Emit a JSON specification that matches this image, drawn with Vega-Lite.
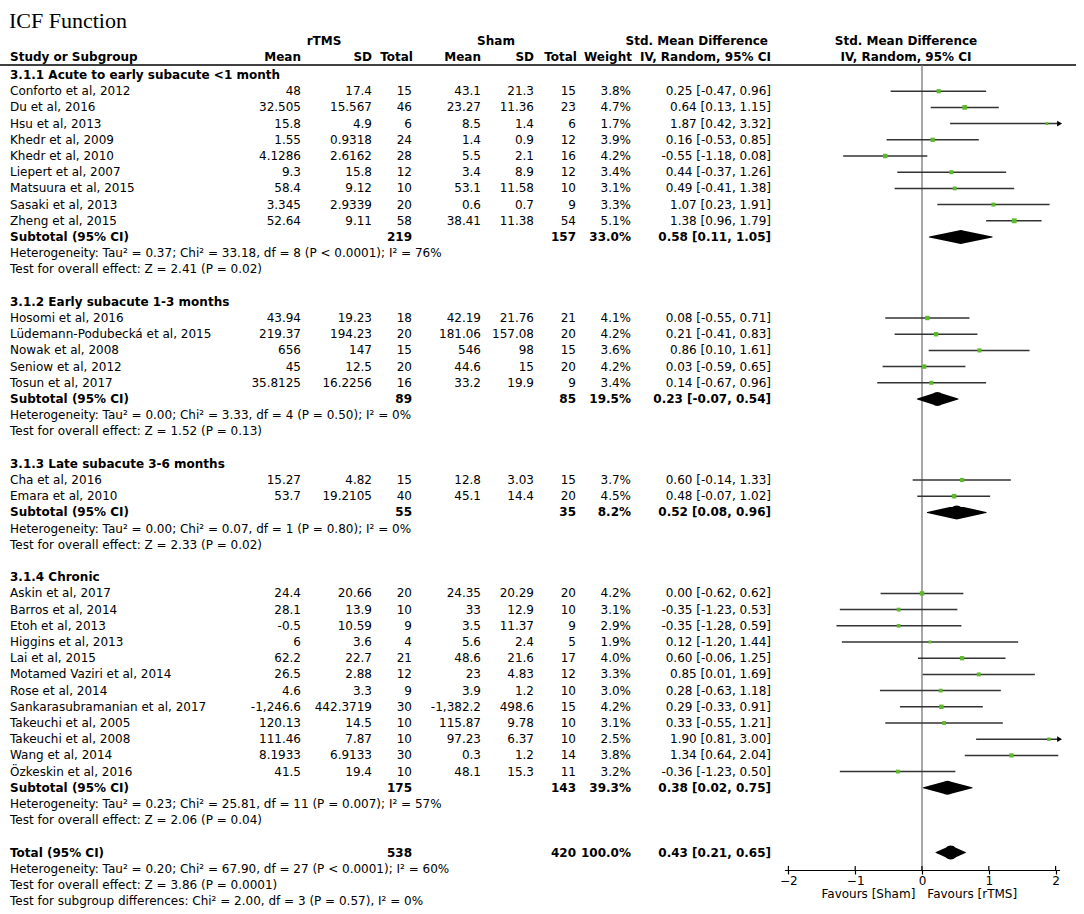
{
  "$schema": "https://vega.github.io/schema/vega-lite/v6.json",
  "width": 1084,
  "height": 870,
  "autosize": {"type": "none"},
  "padding": {"left": 0, "top": 0, "right": 0, "bottom": 44},
  "background": "white",
  "config": {
    "view": {"stroke": null},
    "text": {"font": "DejaVu Sans", "fontSize": 12, "baseline": "middle", "color": "#000"}
  },
  "datasets": {
    "studies": [
      {"row": 1, "study": "Conforto et al, 2012", "m1": "48", "sd1": "17.4", "n1": "15", "m2": "43.1", "sd2": "21.3", "n2": "15", "w": "3.8%", "wt": 3.8, "est": 0.25, "lo": -0.47, "hi": 0.96, "ci": "0.25 [-0.47, 0.96]"},
      {"row": 2, "study": "Du et al, 2016", "m1": "32.505", "sd1": "15.567", "n1": "46", "m2": "23.27", "sd2": "11.36", "n2": "23", "w": "4.7%", "wt": 4.7, "est": 0.64, "lo": 0.13, "hi": 1.15, "ci": "0.64 [0.13, 1.15]"},
      {"row": 3, "study": "Hsu et al, 2013", "m1": "15.8", "sd1": "4.9", "n1": "6", "m2": "8.5", "sd2": "1.4", "n2": "6", "w": "1.7%", "wt": 1.7, "est": 1.87, "lo": 0.42, "hi": 3.32, "ci": "1.87 [0.42, 3.32]"},
      {"row": 4, "study": "Khedr et al, 2009", "m1": "1.55", "sd1": "0.9318", "n1": "24", "m2": "1.4", "sd2": "0.9", "n2": "12", "w": "3.9%", "wt": 3.9, "est": 0.16, "lo": -0.53, "hi": 0.85, "ci": "0.16 [-0.53, 0.85]"},
      {"row": 5, "study": "Khedr et al, 2010", "m1": "4.1286", "sd1": "2.6162", "n1": "28", "m2": "5.5", "sd2": "2.1", "n2": "16", "w": "4.2%", "wt": 4.2, "est": -0.55, "lo": -1.18, "hi": 0.08, "ci": "-0.55 [-1.18, 0.08]"},
      {"row": 6, "study": "Liepert et al, 2007", "m1": "9.3", "sd1": "15.8", "n1": "12", "m2": "3.4", "sd2": "8.9", "n2": "12", "w": "3.4%", "wt": 3.4, "est": 0.44, "lo": -0.37, "hi": 1.26, "ci": "0.44 [-0.37, 1.26]"},
      {"row": 7, "study": "Matsuura et al, 2015", "m1": "58.4", "sd1": "9.12", "n1": "10", "m2": "53.1", "sd2": "11.58", "n2": "10", "w": "3.1%", "wt": 3.1, "est": 0.49, "lo": -0.41, "hi": 1.38, "ci": "0.49 [-0.41, 1.38]"},
      {"row": 8, "study": "Sasaki et al, 2013", "m1": "3.345", "sd1": "2.9339", "n1": "20", "m2": "0.6", "sd2": "0.7", "n2": "9", "w": "3.3%", "wt": 3.3, "est": 1.07, "lo": 0.23, "hi": 1.91, "ci": "1.07 [0.23, 1.91]"},
      {"row": 9, "study": "Zheng et al, 2015", "m1": "52.64", "sd1": "9.11", "n1": "58", "m2": "38.41", "sd2": "11.38", "n2": "54", "w": "5.1%", "wt": 5.1, "est": 1.38, "lo": 0.96, "hi": 1.79, "ci": "1.38 [0.96, 1.79]"},
      {"row": 15, "study": "Hosomi et al, 2016", "m1": "43.94", "sd1": "19.23", "n1": "18", "m2": "42.19", "sd2": "21.76", "n2": "21", "w": "4.1%", "wt": 4.1, "est": 0.08, "lo": -0.55, "hi": 0.71, "ci": "0.08 [-0.55, 0.71]"},
      {"row": 16, "study": "Lüdemann-Podubecká et al, 2015", "m1": "219.37", "sd1": "194.23", "n1": "20", "m2": "181.06", "sd2": "157.08", "n2": "20", "w": "4.2%", "wt": 4.2, "est": 0.21, "lo": -0.41, "hi": 0.83, "ci": "0.21 [-0.41, 0.83]"},
      {"row": 17, "study": "Nowak et al, 2008", "m1": "656", "sd1": "147", "n1": "15", "m2": "546", "sd2": "98", "n2": "15", "w": "3.6%", "wt": 3.6, "est": 0.86, "lo": 0.10, "hi": 1.61, "ci": "0.86 [0.10, 1.61]"},
      {"row": 18, "study": "Seniow et al, 2012", "m1": "45", "sd1": "12.5", "n1": "20", "m2": "44.6", "sd2": "15", "n2": "20", "w": "4.2%", "wt": 4.2, "est": 0.03, "lo": -0.59, "hi": 0.65, "ci": "0.03 [-0.59, 0.65]"},
      {"row": 19, "study": "Tosun et al, 2017", "m1": "35.8125", "sd1": "16.2256", "n1": "16", "m2": "33.2", "sd2": "19.9", "n2": "9", "w": "3.4%", "wt": 3.4, "est": 0.14, "lo": -0.67, "hi": 0.96, "ci": "0.14 [-0.67, 0.96]"},
      {"row": 25, "study": "Cha et al, 2016", "m1": "15.27", "sd1": "4.82", "n1": "15", "m2": "12.8", "sd2": "3.03", "n2": "15", "w": "3.7%", "wt": 3.7, "est": 0.60, "lo": -0.14, "hi": 1.33, "ci": "0.60 [-0.14, 1.33]"},
      {"row": 26, "study": "Emara et al, 2010", "m1": "53.7", "sd1": "19.2105", "n1": "40", "m2": "45.1", "sd2": "14.4", "n2": "20", "w": "4.5%", "wt": 4.5, "est": 0.48, "lo": -0.07, "hi": 1.02, "ci": "0.48 [-0.07, 1.02]"},
      {"row": 32, "study": "Askin et al, 2017", "m1": "24.4", "sd1": "20.66", "n1": "20", "m2": "24.35", "sd2": "20.29", "n2": "20", "w": "4.2%", "wt": 4.2, "est": 0.00, "lo": -0.62, "hi": 0.62, "ci": "0.00 [-0.62, 0.62]"},
      {"row": 33, "study": "Barros et al, 2014", "m1": "28.1", "sd1": "13.9", "n1": "10", "m2": "33", "sd2": "12.9", "n2": "10", "w": "3.1%", "wt": 3.1, "est": -0.35, "lo": -1.23, "hi": 0.53, "ci": "-0.35 [-1.23, 0.53]"},
      {"row": 34, "study": "Etoh et al, 2013", "m1": "-0.5", "sd1": "10.59", "n1": "9", "m2": "3.5", "sd2": "11.37", "n2": "9", "w": "2.9%", "wt": 2.9, "est": -0.35, "lo": -1.28, "hi": 0.59, "ci": "-0.35 [-1.28, 0.59]"},
      {"row": 35, "study": "Higgins et al, 2013", "m1": "6", "sd1": "3.6", "n1": "4", "m2": "5.6", "sd2": "2.4", "n2": "5", "w": "1.9%", "wt": 1.9, "est": 0.12, "lo": -1.20, "hi": 1.44, "ci": "0.12 [-1.20, 1.44]"},
      {"row": 36, "study": "Lai et al, 2015", "m1": "62.2", "sd1": "22.7", "n1": "21", "m2": "48.6", "sd2": "21.6", "n2": "17", "w": "4.0%", "wt": 4.0, "est": 0.60, "lo": -0.06, "hi": 1.25, "ci": "0.60 [-0.06, 1.25]"},
      {"row": 37, "study": "Motamed Vaziri et al, 2014", "m1": "26.5", "sd1": "2.88", "n1": "12", "m2": "23", "sd2": "4.83", "n2": "12", "w": "3.3%", "wt": 3.3, "est": 0.85, "lo": 0.01, "hi": 1.69, "ci": "0.85 [0.01, 1.69]"},
      {"row": 38, "study": "Rose et al, 2014", "m1": "4.6", "sd1": "3.3", "n1": "9", "m2": "3.9", "sd2": "1.2", "n2": "10", "w": "3.0%", "wt": 3.0, "est": 0.28, "lo": -0.63, "hi": 1.18, "ci": "0.28 [-0.63, 1.18]"},
      {"row": 39, "study": "Sankarasubramanian et al, 2017", "m1": "-1,246.6", "sd1": "442.3719", "n1": "30", "m2": "-1,382.2", "sd2": "498.6", "n2": "15", "w": "4.2%", "wt": 4.2, "est": 0.29, "lo": -0.33, "hi": 0.91, "ci": "0.29 [-0.33, 0.91]"},
      {"row": 40, "study": "Takeuchi et al, 2005", "m1": "120.13", "sd1": "14.5", "n1": "10", "m2": "115.87", "sd2": "9.78", "n2": "10", "w": "3.1%", "wt": 3.1, "est": 0.33, "lo": -0.55, "hi": 1.21, "ci": "0.33 [-0.55, 1.21]"},
      {"row": 41, "study": "Takeuchi et al, 2008", "m1": "111.46", "sd1": "7.87", "n1": "10", "m2": "97.23", "sd2": "6.37", "n2": "10", "w": "2.5%", "wt": 2.5, "est": 1.90, "lo": 0.81, "hi": 3.00, "ci": "1.90 [0.81, 3.00]"},
      {"row": 42, "study": "Wang et al, 2014", "m1": "8.1933", "sd1": "6.9133", "n1": "30", "m2": "0.3", "sd2": "1.2", "n2": "14", "w": "3.8%", "wt": 3.8, "est": 1.34, "lo": 0.64, "hi": 2.04, "ci": "1.34 [0.64, 2.04]"},
      {"row": 43, "study": "Özkeskin et al, 2016", "m1": "41.5", "sd1": "19.4", "n1": "10", "m2": "48.1", "sd2": "15.3", "n2": "11", "w": "3.2%", "wt": 3.2, "est": -0.36, "lo": -1.23, "hi": 0.50, "ci": "-0.36 [-1.23, 0.50]"}
    ],
    "summary": [
      {"row": 10, "label": "Subtotal (95% CI)", "n1": "219", "n2": "157", "w": "33.0%", "est": 0.58, "lo": 0.11, "hi": 1.05, "ci": "0.58 [0.11, 1.05]"},
      {"row": 20, "label": "Subtotal (95% CI)", "n1": "89", "n2": "85", "w": "19.5%", "est": 0.23, "lo": -0.07, "hi": 0.54, "ci": "0.23 [-0.07, 0.54]"},
      {"row": 27, "label": "Subtotal (95% CI)", "n1": "55", "n2": "35", "w": "8.2%", "est": 0.52, "lo": 0.08, "hi": 0.96, "ci": "0.52 [0.08, 0.96]"},
      {"row": 44, "label": "Subtotal (95% CI)", "n1": "175", "n2": "143", "w": "39.3%", "est": 0.38, "lo": 0.02, "hi": 0.75, "ci": "0.38 [0.02, 0.75]"},
      {"row": 48, "label": "Total (95% CI)", "n1": "538", "n2": "420", "w": "100.0%", "est": 0.43, "lo": 0.21, "hi": 0.65, "ci": "0.43 [0.21, 0.65]"}
    ],
    "headings": [
      {"row": 0, "label": "3.1.1 Acute to early subacute <1 month"},
      {"row": 14, "label": "3.1.2 Early subacute 1-3 months"},
      {"row": 24, "label": "3.1.3 Late subacute 3-6 months"},
      {"row": 31, "label": "3.1.4 Chronic"}
    ],
    "notes": [
      {"row": 11, "label": "Heterogeneity: Tau² = 0.37; Chi² = 33.18, df = 8 (P < 0.0001); I² = 76%"},
      {"row": 12, "label": "Test for overall effect: Z = 2.41 (P = 0.02)"},
      {"row": 21, "label": "Heterogeneity: Tau² = 0.00; Chi² = 3.33, df = 4 (P = 0.50); I² = 0%"},
      {"row": 22, "label": "Test for overall effect: Z = 1.52 (P = 0.13)"},
      {"row": 28, "label": "Heterogeneity: Tau² = 0.00; Chi² = 0.07, df = 1 (P = 0.80); I² = 0%"},
      {"row": 29, "label": "Test for overall effect: Z = 2.33 (P = 0.02)"},
      {"row": 45, "label": "Heterogeneity: Tau² = 0.23; Chi² = 25.81, df = 11 (P = 0.007); I² = 57%"},
      {"row": 46, "label": "Test for overall effect: Z = 2.06 (P = 0.04)"},
      {"row": 49, "label": "Heterogeneity: Tau² = 0.20; Chi² = 67.90, df = 27 (P < 0.0001); I² = 60%"},
      {"row": 50, "label": "Test for overall effect: Z = 3.86 (P = 0.0001)"},
      {"row": 51, "label": "Test for subgroup differences: Chi² = 2.00, df = 3 (P = 0.57), I² = 0%"}
    ],
    "ticks": [{"t": -2}, {"t": -1}, {"t": 0}, {"t": 1}, {"t": 2}]
  },
  "layer": [
    {
      "layer": [
        {"data": {"values": [{}]}, "mark": {"type": "text", "text": "ICF Function", "font": "Liberation Serif", "fontSize": 22, "align": "left"},
         "encoding": {"x": {"datum": 9, "type": "quantitative", "scale": {"domain": [0, 1084], "range": [0, 1084], "nice": false, "zero": false}, "axis": null},
                      "y": {"datum": -3.33, "type": "quantitative", "scale": {"domain": [-4.6296, 49.074], "reverse": true, "nice": false, "zero": false}, "axis": null}}},
        {"data": {"values": [{}]}, "mark": {"type": "rule", "color": "#000", "strokeWidth": 1.5},
         "encoding": {"x": {"datum": 0, "type": "quantitative"}, "x2": {"datum": 1076},
                      "y": {"datum": -0.62, "type": "quantitative"}}},
        {"data": {"values": [{}]}, "mark": {"type": "text", "text": "rTMS", "fontWeight": "bold", "align": "center"},
         "encoding": {"x": {"datum": 324, "type": "quantitative"}, "y": {"datum": -2.1, "type": "quantitative"}}},
        {"data": {"values": [{}]}, "mark": {"type": "text", "text": "Sham", "fontWeight": "bold", "align": "center"},
         "encoding": {"x": {"datum": 496, "type": "quantitative"}, "y": {"datum": -2.1, "type": "quantitative"}}},
        {"data": {"values": [{}]}, "mark": {"type": "text", "text": "Std. Mean Difference", "fontWeight": "bold", "align": "right"},
         "encoding": {"x": {"datum": 768, "type": "quantitative"}, "y": {"datum": -2.1, "type": "quantitative"}}},
        {"data": {"values": [{}]}, "mark": {"type": "text", "text": "Std. Mean Difference", "fontWeight": "bold", "align": "center"},
         "encoding": {"x": {"datum": 906, "type": "quantitative"}, "y": {"datum": -2.1, "type": "quantitative"}}},
        {"data": {"values": [{}]}, "mark": {"type": "text", "text": "IV, Random, 95% CI", "fontWeight": "bold", "align": "center"},
         "encoding": {"x": {"datum": 906, "type": "quantitative"}, "y": {"datum": -1.1, "type": "quantitative"}}},
        {"data": {"values": [{}]}, "mark": {"type": "text", "text": "Study or Subgroup", "fontWeight": "bold", "align": "left"},
         "encoding": {"x": {"datum": 10, "type": "quantitative"}, "y": {"datum": -1.1, "type": "quantitative"}}},
        {"data": {"values": [{}]}, "mark": {"type": "text", "text": "Mean", "fontWeight": "bold", "align": "right"},
         "encoding": {"x": {"datum": 301, "type": "quantitative"}, "y": {"datum": -1.1, "type": "quantitative"}}},
        {"data": {"values": [{}]}, "mark": {"type": "text", "text": "SD", "fontWeight": "bold", "align": "right"},
         "encoding": {"x": {"datum": 372, "type": "quantitative"}, "y": {"datum": -1.1, "type": "quantitative"}}},
        {"data": {"values": [{}]}, "mark": {"type": "text", "text": "Total", "fontWeight": "bold", "align": "right"},
         "encoding": {"x": {"datum": 413, "type": "quantitative"}, "y": {"datum": -1.1, "type": "quantitative"}}},
        {"data": {"values": [{}]}, "mark": {"type": "text", "text": "Mean", "fontWeight": "bold", "align": "right"},
         "encoding": {"x": {"datum": 481, "type": "quantitative"}, "y": {"datum": -1.1, "type": "quantitative"}}},
        {"data": {"values": [{}]}, "mark": {"type": "text", "text": "SD", "fontWeight": "bold", "align": "right"},
         "encoding": {"x": {"datum": 534, "type": "quantitative"}, "y": {"datum": -1.1, "type": "quantitative"}}},
        {"data": {"values": [{}]}, "mark": {"type": "text", "text": "Total", "fontWeight": "bold", "align": "right"},
         "encoding": {"x": {"datum": 577, "type": "quantitative"}, "y": {"datum": -1.1, "type": "quantitative"}}},
        {"data": {"values": [{}]}, "mark": {"type": "text", "text": "Weight", "fontWeight": "bold", "align": "right"},
         "encoding": {"x": {"datum": 632, "type": "quantitative"}, "y": {"datum": -1.1, "type": "quantitative"}}},
        {"data": {"values": [{}]}, "mark": {"type": "text", "text": "IV, Random, 95% CI", "fontWeight": "bold", "align": "right"},
         "encoding": {"x": {"datum": 771, "type": "quantitative"}, "y": {"datum": -1.1, "type": "quantitative"}}},
        {"data": {"name": "headings"}, "mark": {"type": "text", "fontWeight": "bold", "align": "left"},
         "encoding": {"x": {"datum": 10, "type": "quantitative"}, "y": {"field": "row", "type": "quantitative"}, "text": {"field": "label"}}},
        {"data": {"name": "notes"}, "mark": {"type": "text", "align": "left", "fontSize": 12},
         "encoding": {"x": {"datum": 10, "type": "quantitative"}, "y": {"field": "row", "type": "quantitative"}, "text": {"field": "label"}}},
        {"data": {"name": "studies"}, "mark": {"type": "text", "align": "left"},
         "encoding": {"x": {"datum": 10, "type": "quantitative"}, "y": {"field": "row", "type": "quantitative"}, "text": {"field": "study"}}},
        {"data": {"name": "studies"}, "mark": {"type": "text", "align": "right"},
         "encoding": {"x": {"datum": 301, "type": "quantitative"}, "y": {"field": "row", "type": "quantitative"}, "text": {"field": "m1"}}},
        {"data": {"name": "studies"}, "mark": {"type": "text", "align": "right"},
         "encoding": {"x": {"datum": 372, "type": "quantitative"}, "y": {"field": "row", "type": "quantitative"}, "text": {"field": "sd1"}}},
        {"data": {"name": "studies"}, "mark": {"type": "text", "align": "right"},
         "encoding": {"x": {"datum": 412, "type": "quantitative"}, "y": {"field": "row", "type": "quantitative"}, "text": {"field": "n1"}}},
        {"data": {"name": "studies"}, "mark": {"type": "text", "align": "right"},
         "encoding": {"x": {"datum": 481, "type": "quantitative"}, "y": {"field": "row", "type": "quantitative"}, "text": {"field": "m2"}}},
        {"data": {"name": "studies"}, "mark": {"type": "text", "align": "right"},
         "encoding": {"x": {"datum": 534, "type": "quantitative"}, "y": {"field": "row", "type": "quantitative"}, "text": {"field": "sd2"}}},
        {"data": {"name": "studies"}, "mark": {"type": "text", "align": "right"},
         "encoding": {"x": {"datum": 576, "type": "quantitative"}, "y": {"field": "row", "type": "quantitative"}, "text": {"field": "n2"}}},
        {"data": {"name": "studies"}, "mark": {"type": "text", "align": "right"},
         "encoding": {"x": {"datum": 631, "type": "quantitative"}, "y": {"field": "row", "type": "quantitative"}, "text": {"field": "w"}}},
        {"data": {"name": "studies"}, "mark": {"type": "text", "align": "right"},
         "encoding": {"x": {"datum": 771, "type": "quantitative"}, "y": {"field": "row", "type": "quantitative"}, "text": {"field": "ci"}}},
        {"data": {"name": "summary"}, "mark": {"type": "text", "align": "left", "fontWeight": "bold"},
         "encoding": {"x": {"datum": 10, "type": "quantitative"}, "y": {"field": "row", "type": "quantitative"}, "text": {"field": "label"}}},
        {"data": {"name": "summary"}, "mark": {"type": "text", "align": "right", "fontWeight": "bold"},
         "encoding": {"x": {"datum": 412, "type": "quantitative"}, "y": {"field": "row", "type": "quantitative"}, "text": {"field": "n1"}}},
        {"data": {"name": "summary"}, "mark": {"type": "text", "align": "right", "fontWeight": "bold"},
         "encoding": {"x": {"datum": 576, "type": "quantitative"}, "y": {"field": "row", "type": "quantitative"}, "text": {"field": "n2"}}},
        {"data": {"name": "summary"}, "mark": {"type": "text", "align": "right", "fontWeight": "bold"},
         "encoding": {"x": {"datum": 631, "type": "quantitative"}, "y": {"field": "row", "type": "quantitative"}, "text": {"field": "w"}}},
        {"data": {"name": "summary"}, "mark": {"type": "text", "align": "right", "fontWeight": "bold"},
         "encoding": {"x": {"datum": 771, "type": "quantitative"}, "y": {"field": "row", "type": "quantitative"}, "text": {"field": "ci"}}}
      ]
    },
    {
      "layer": [
        {"data": {"values": [{}]}, "mark": {"type": "rule", "color": "#777", "strokeWidth": 1.3},
         "encoding": {"x": {"datum": 0, "type": "quantitative",
                            "scale": {"domain": [-2.06, 2.06], "range": [784.4, 1059.6], "clamp": true, "nice": false, "zero": false},
                            "axis": {"values": [-2, -1, 0, 1, 2], "orient": "bottom", "title": null, "grid": false, "domainColor": "#000", "domainWidth": 1.2, "tickColor": "#000", "tickSize": 4, "tickWidth": 1.2, "labelFont": "DejaVu Sans", "labelFontSize": 12, "labelColor": "#000", "labelPadding": 1, "format": "d"}},
                      "y": {"datum": -0.62, "type": "quantitative"}, "y2": {"datum": 49.074}}},
        {"data": {"name": "ticks"}, "mark": {"type": "rule", "color": "#000", "strokeWidth": 1.2},
         "encoding": {"x": {"field": "t", "type": "quantitative"}, "y": {"datum": 48.82, "type": "quantitative"}, "y2": {"datum": 49.074}}},
        {"data": {"name": "studies"}, "mark": {"type": "rule", "color": "#333", "strokeWidth": 1.5},
         "encoding": {"x": {"field": "lo", "type": "quantitative"}, "x2": {"field": "hi"}, "y": {"field": "row", "type": "quantitative"}}},
        {"data": {"name": "studies"}, "transform": [{"filter": "datum.hi > 2.06"}],
         "mark": {"type": "point", "shape": "triangle-right", "filled": true, "color": "#000", "size": 32, "opacity": 1},
         "encoding": {"x": {"field": "hi", "type": "quantitative"}, "y": {"field": "row", "type": "quantitative"}}},
        {"data": {"name": "studies"}, "mark": {"type": "point", "shape": "square", "filled": true, "color": "#5dbb2b", "opacity": 1},
         "encoding": {"x": {"field": "est", "type": "quantitative"}, "y": {"field": "row", "type": "quantitative"},
                      "size": {"field": "wt", "type": "quantitative", "scale": {"domain": [1.5, 5.5], "range": [7, 26]}, "legend": null}}},
        {"data": {"name": "summary"}, "transform": [{"fold": ["lo", "est", "hi"], "as": ["k", "v"]}],
         "mark": {"type": "trail", "color": "#000"},
         "encoding": {"x": {"field": "v", "type": "quantitative"}, "y": {"field": "row", "type": "quantitative"},
                      "detail": {"field": "row", "type": "nominal"},
                      "size": {"condition": {"test": "datum.k === 'est'", "value": 14}, "value": 0}}},
        {"data": {"values": [{}]}, "mark": {"type": "text", "text": "Favours [Sham]", "align": "right", "font": "DejaVu Sans", "fontSize": 12, "baseline": "middle"},
         "encoding": {"x": {"datum": -0.1, "type": "quantitative"}, "y": {"datum": 50.55, "type": "quantitative"}}},
        {"data": {"values": [{}]}, "mark": {"type": "text", "text": "Favours [rTMS]", "align": "left", "font": "DejaVu Sans", "fontSize": 12, "baseline": "middle"},
         "encoding": {"x": {"datum": 0.08, "type": "quantitative"}, "y": {"datum": 50.55, "type": "quantitative"}}}
      ]
    }
  ],
  "resolve": {"scale": {"x": "independent"}, "axis": {"x": "independent"}}
}
